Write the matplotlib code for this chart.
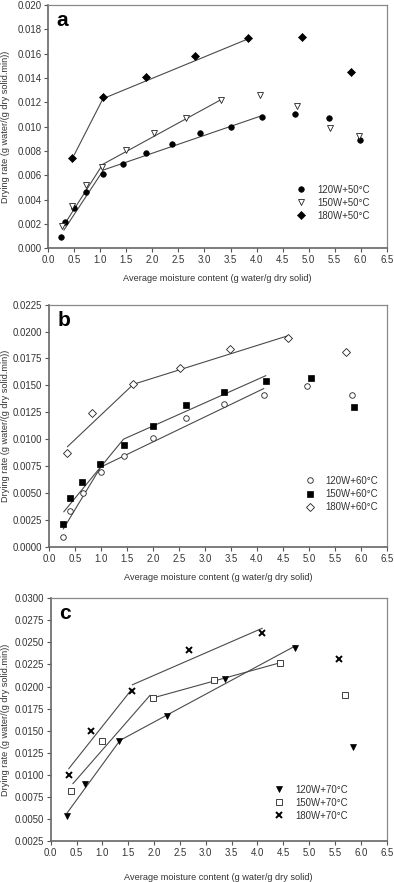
import matplotlib
matplotlib.use("Agg")
import matplotlib.pyplot as plt

plt.rcParams['font.family'] = ['Liberation Sans', 'DejaVu Sans']

W, H = 394, 882
DPI = 100

# ---------------- data ----------------
# panel a (50 C)
x120a = [0.24, 0.33, 0.49, 0.73, 1.05, 1.44, 1.88, 2.38, 2.91, 3.50, 4.10, 4.73, 5.40, 5.99]
y120a = [0.0009, 0.0022, 0.0033, 0.0046, 0.0061, 0.0069, 0.0078, 0.0086, 0.0095, 0.0100, 0.0108, 0.0110, 0.0107, 0.0089]
x150a = [0.26, 0.46, 0.72, 1.04, 1.49, 2.03, 2.64, 3.31, 4.06, 4.78, 5.42, 5.97]
y150a = [0.0018, 0.0035, 0.0052, 0.0067, 0.0081, 0.0095, 0.0107, 0.0122, 0.0126, 0.0117, 0.0099, 0.0092]
x180a = [0.46, 1.05, 1.87, 2.82, 3.83, 4.87, 5.81]
y180a = [0.0074, 0.0124, 0.0141, 0.0158, 0.0173, 0.0174, 0.0145]
fit120a = [([0.30, 1.06, 4.10], [0.0015, 0.00644, 0.0109])]
fit150a = [([0.27, 1.045, 3.31], [0.0017, 0.0069, 0.0122])]
fit180a = [([0.50, 1.05, 3.83], [0.0077, 0.0123, 0.0172])]

# panel b (60 C)
x120b = [0.27, 0.39, 0.64, 0.99, 1.44, 1.99, 2.64, 3.36, 4.13, 4.97, 5.84]
y120b = [0.0009, 0.0033, 0.0050, 0.0069, 0.0084, 0.0101, 0.0120, 0.0133, 0.0141, 0.0149, 0.0141]
x150b = [0.27, 0.39, 0.63, 0.98, 1.43, 1.99, 2.63, 3.36, 4.17, 5.04, 5.87]
y150b = [0.0021, 0.0045, 0.0060, 0.0077, 0.0095, 0.0112, 0.0132, 0.0144, 0.0154, 0.0157, 0.0130]
x180b = [0.35, 0.83, 1.62, 2.52, 3.49, 4.59, 5.71]
y180b = [0.0087, 0.0124, 0.0151, 0.0166, 0.0184, 0.0194, 0.0181]
fit120b = [([0.27, 0.99, 4.13], [0.00165, 0.0074, 0.0147])]
fit150b = [([0.28, 1.43, 4.17], [0.00325, 0.0100, 0.0159])]
fit180b = [([0.35, 1.62, 4.59], [0.0093, 0.0151, 0.0196])]

# panel c (70 C)
x120c = [0.32, 0.66, 1.33, 2.25, 3.38, 4.73, 5.85]
y120c = [0.0053, 0.0090, 0.0138, 0.0167, 0.0208, 0.0244, 0.0132]
x150c = [0.40, 0.99, 1.97, 3.15, 4.44, 5.69]
y150c = [0.0082, 0.0138, 0.0187, 0.0207, 0.0227, 0.0190]
x180c = [0.35, 0.77, 1.58, 2.68, 4.09, 5.57]
y180c = [0.0100, 0.0150, 0.0195, 0.0241, 0.0261, 0.0231]
fit120c = [([0.32, 1.34, 4.73], [0.0057, 0.0139, 0.0246])]
fit150c = [([0.43, 1.92], [0.0090, 0.0190]), ([1.97, 4.44], [0.0187, 0.0227])]
fit180c = [([0.35, 1.57], [0.0107, 0.0197]), ([1.58, 4.09], [0.0202, 0.0266])]

labels_a = ['120W+50°C', '150W+50°C', '180W+50°C']
labels_b = ['120W+60°C', '150W+60°C', '180W+60°C']
labels_c = ['120W+70°C', '150W+70°C', '180W+70°C']

xticks = [0.0, 0.5, 1.0, 1.5, 2.0, 2.5, 3.0, 3.5, 4.0, 4.5, 5.0, 5.5, 6.0, 6.5]
yticks_a = [0.000, 0.002, 0.004, 0.006, 0.008, 0.010, 0.012, 0.014, 0.016, 0.018, 0.020]
yticks_b = [0.0, 0.0025, 0.0050, 0.0075, 0.0100, 0.0125, 0.0150, 0.0175, 0.0200, 0.0225]
yticks_c = [0.0025, 0.0050, 0.0075, 0.0100, 0.0125, 0.0150, 0.0175, 0.0200, 0.0225, 0.0250, 0.0275, 0.0300]

XLABEL = 'Average moisture content (g water/g dry solid)'
YLABEL = 'Drying rate (g water/(g dry solid.min))'

TXT = '#333333'
LINEC = '#4a4a4a'
FS = 6.9
LFS = 6.6

fig = plt.figure(figsize=(W / DPI, H / DPI), dpi=DPI)
fig.patch.set_facecolor('white')


def px_axes(l, t, r, b):
    return fig.add_axes([l / W, 1 - b / H, (r - l) / W, (b - t) / H])


def style(ax, left_px, width_px, yticks, yfmt, ylim, letter, xlabelpad):
    ax.set_xlim(0, 6.5)
    ax.set_ylim(*ylim)
    ax.set_xticks(xticks)
    ax.set_xticklabels([f'{v:.1f}' for v in xticks])
    ax.set_yticks(yticks)
    ax.set_yticklabels([yfmt.format(v) for v in yticks])
    ax.tick_params(direction='out', length=3, width=0.8, colors='#555555',
                   labelcolor=TXT, labelsize=FS, pad=2)
    for s in ['left', 'bottom']:
        ax.spines[s].set_color('#666666')
        ax.spines[s].set_linewidth(1.2)
    for s in ['top', 'right']:
        ax.spines[s].set_color('#888888')
        ax.spines[s].set_linewidth(0.9)
    ax.set_xlabel(XLABEL, fontsize=LFS, color=TXT, labelpad=xlabelpad)
    ax.set_ylabel(YLABEL, fontsize=LFS, color=TXT)
    ax.yaxis.set_label_coords((10.5 - left_px) / width_px, 0.5)
    ax.text(0.025, 0.975, letter, transform=ax.transAxes, fontsize=15,
            fontweight='bold', color='black', va='top', ha='left')


def draw_fits(ax, fits):
    for fx, fy in fits:
        ax.plot(fx, fy, color=LINEC, lw=0.8, zorder=2)


def legend(ax, handles, labels, anchor):
    ax.legend(handles, labels, loc='upper left', bbox_to_anchor=anchor,
              frameon=False, fontsize=FS, handlelength=1.0, handletextpad=1.2,
              labelspacing=0.32, borderpad=0, borderaxespad=0,
              labelcolor=TXT)


# ---------- panel a ----------
axa = px_axes(48.3, 5.0, 386.7, 248.3)
draw_fits(axa, fit120a)
draw_fits(axa, fit150a)
draw_fits(axa, fit180a)
h1, = axa.plot(x120a, y120a, 'o', ms=4.0, mfc='black', mec='black', mew=0.5, ls='none', zorder=3)
h2, = axa.plot(x150a, y150a, 'v', ms=4.3, mfc='white', mec='#222222', mew=0.6, ls='none', zorder=3)
h3, = axa.plot(x180a, y180a, 'D', ms=3.8, mfc='black', mec='black', mew=0.5, ls='none', zorder=3)
style(axa, 48.3, 338.4, yticks_a, '{:.3f}', (0, 0.020), 'a', 6.5)
legend(axa, [h1, h2, h3], labels_a, (0.732, 0.262))

# ---------- panel b ----------
axb = px_axes(49.3, 304.7, 386.7, 546.7)
draw_fits(axb, fit120b)
draw_fits(axb, fit150b)
draw_fits(axb, fit180b)
g1, = axb.plot(x120b, y120b, 'o', ms=4.0, mfc='white', mec='#222222', mew=0.6, ls='none', zorder=3)
g2, = axb.plot(x150b, y150b, 's', ms=3.8, mfc='black', mec='black', mew=0.5, ls='none', zorder=3)
g3, = axb.plot(x180b, y180b, 'D', ms=3.8, mfc='white', mec='#222222', mew=0.6, ls='none', zorder=3)
style(axb, 49.3, 337.4, yticks_b, '{:.4f}', (0, 0.0225), 'b', 6.5)
legend(axb, [g1, g2, g3], labels_b, (0.757, 0.293))

# ---------- panel c ----------
axc = px_axes(50.7, 598.3, 386.7, 841.0)
draw_fits(axc, fit120c)
draw_fits(axc, fit150c)
draw_fits(axc, fit180c)
k1, = axc.plot(x120c, y120c, 'v', ms=4.3, mfc='black', mec='black', mew=0.5, ls='none', zorder=3)
k2, = axc.plot(x150c, y150c, 's', ms=3.8, mfc='white', mec='#222222', mew=0.6, ls='none', zorder=3)
k3, = axc.plot(x180c, y180c, 'x', ms=4.0, color='black', mew=1.4, ls='none', zorder=3)
style(axc, 50.7, 336.0, yticks_c, '{:.4f}', (0.0025, 0.0300), 'c', 11)
legend(axc, [k1, k2, k3], labels_c, (0.665, 0.232))

fig.savefig('out.png', dpi=DPI, facecolor='white')
